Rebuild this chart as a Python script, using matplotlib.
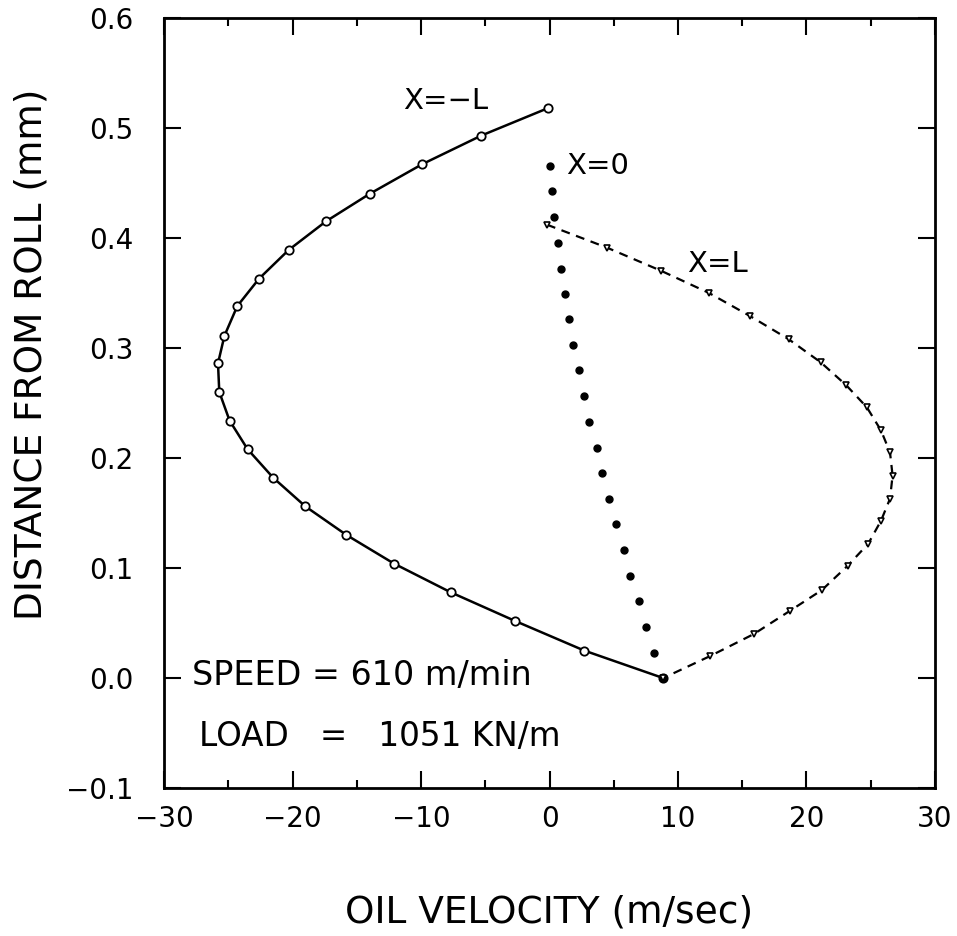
import matplotlib.pyplot as plt

# X = -L profile (open circles, solid line)
vel_neg_l = [-0.1, -5.3, -9.9, -14.0, -17.4, -20.3, -22.6, -24.3, -25.3, -25.8, -25.7,
             -24.9, -23.5, -21.5, -19.0, -15.8, -12.1, -7.7, -2.7, 2.7, 8.85]
y_neg_l = [0.518, 0.493, 0.467, 0.440, 0.415, 0.389, 0.363, 0.338, 0.311, 0.286, 0.260,
           0.234, 0.208, 0.182, 0.156, 0.130, 0.104, 0.078, 0.052, 0.025, 0.0]

# X = 0 profile (filled points, no line)
vel_zero = [0.0, 0.2, 0.34, 0.65, 0.9, 1.17, 1.53, 1.84, 2.28, 2.72, 3.1,
            3.66, 4.05, 4.6, 5.2, 5.76, 6.25, 6.93, 7.5, 8.17, 8.85]
y_zero = [0.465, 0.443, 0.419, 0.395, 0.372, 0.349, 0.326, 0.303, 0.280, 0.256, 0.233,
          0.209, 0.186, 0.163, 0.140, 0.116, 0.093, 0.070, 0.046, 0.023, 0.0]

# X = L profile (small triangles, dashed line)
vel_l = [-0.2, 4.5, 8.7, 12.4, 15.6, 18.6, 21.1, 23.1, 24.7, 25.8, 26.5,
         26.7, 26.5, 25.8, 24.8, 23.2, 21.2, 18.7, 15.9, 12.5, 8.85]
y_l = [0.412, 0.391, 0.370, 0.350, 0.329, 0.308, 0.287, 0.266, 0.246, 0.225, 0.205,
       0.184, 0.163, 0.143, 0.122, 0.102, 0.080, 0.061, 0.040, 0.020, 0.0]

x_ticks = [-30, -20, -10, 0, 10, 20, 30]
x_labels = ["\u221230", "\u221220", "\u221210", "0", "10", "20", "30"]
x_minor = [-25, -15, -5, 5, 15, 25]
y_ticks = [-0.1, 0.0, 0.1, 0.2, 0.3, 0.4, 0.5, 0.6]
y_labels = ["\u22120.1", "0.0", "0.1", "0.2", "0.3", "0.4", "0.5", "0.6"]

plt.rcParams["font.family"] = "DejaVu Sans"

fig = plt.figure(figsize=(9.57, 9.36), dpi=100)
ax = fig.add_axes([0.1714, 0.158, 0.8056, 0.823])

ax.plot(vel_neg_l, y_neg_l, "-", color="black", lw=1.8, marker="o", ms=6,
        mfc="white", mec="black", mew=1.3)
ax.plot(vel_zero, y_zero, linestyle="none", marker="o", ms=5, color="black")
ax.plot(vel_l, y_l, linestyle=(0, (4, 3)), color="black", lw=1.6, marker="v", ms=4,
        mfc="white", mec="black", mew=1.2)

ax.text(-11.4, 0.524, "X=\u2212L", fontsize=21, va="center")
ax.text(1.3, 0.465, "X=0", fontsize=21, va="center")
ax.text(10.7, 0.376, "X=L", fontsize=21, va="center")
ax.text(-27.8, 0.002, "SPEED = 610 m/min", fontsize=24, va="center")
ax.text(-27.3, -0.053, "LOAD   =   1051 KN/m", fontsize=23.5, va="center")

ax.set_xlim(-30, 30)
ax.set_ylim(-0.1, 0.6)
ax.set_xticks(x_ticks, x_labels)
ax.set_xticks(x_minor, minor=True)
ax.set_yticks(y_ticks, y_labels)
ax.tick_params(which="both", direction="in", top=True, right=True, labelsize=20, width=1.5)
ax.tick_params(which="major", length=12)
ax.tick_params(which="minor", length=6)
ax.tick_params(axis="x", which="major", pad=12)
ax.tick_params(axis="y", which="major", pad=22)
for s in ax.spines.values():
    s.set_linewidth(2)

fig.text(549 / 957, 1 - 912 / 936, "OIL VELOCITY (m/sec)", fontsize=27, ha="center", va="center")
fig.text(32 / 957, 1 - 354 / 936, "DISTANCE FROM ROLL (mm)", fontsize=27, rotation=90,
         ha="center", va="center")

fig.savefig("out.png", dpi=100)
